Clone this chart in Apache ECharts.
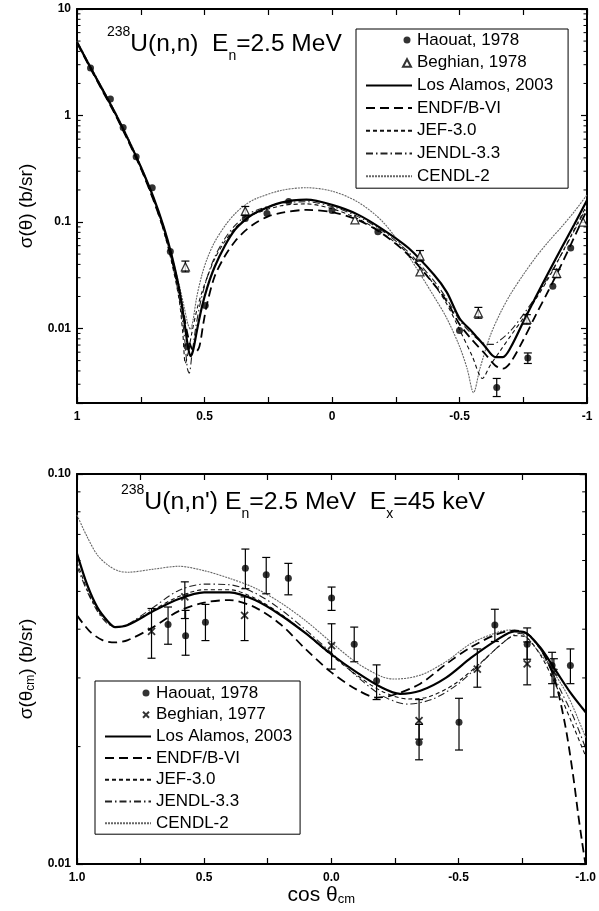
<!DOCTYPE html>
<html><head><meta charset="utf-8">
<script src="https://cdn.jsdelivr.net/npm/echarts@6/dist/echarts.min.js"></script>
<style>html,body{margin:0;padding:0;background:#fff}#c{width:599px;height:911px}</style>
</head><body><div id="c"></div>
<script>
const FONT = "'Liberation Sans', Arial, Helvetica, sans-serif";

// ---------- top panel: 238U(n,n) En=2.5 MeV ----------  [cos(theta), sigma]
const topLosAlamos = [[1,4.9],[0.95,2.9],[0.9,1.75],[0.85,1.05],[0.8,0.6],[0.75,0.33],[0.7,0.17],[0.66,0.09],[0.63,0.05],[0.6,0.024],[0.58,0.012],[0.565,0.0068],[0.555,0.0055],[0.545,0.0062],[0.53,0.0095],[0.51,0.016],[0.49,0.024],[0.46,0.038],[0.42,0.06],[0.38,0.085],[0.34,0.105],[0.3,0.122],[0.2,0.152],[0.1,0.162],[0,0.145],[-0.1,0.118],[-0.2,0.085],[-0.3,0.057],[-0.4,0.032],[-0.45,0.022],[-0.5,0.0125],[-0.55,0.0093],[-0.6,0.0068],[-0.64,0.0054],[-0.67,0.0054],[-0.7,0.0066],[-0.75,0.0115],[-0.8,0.02],[-0.85,0.034],[-0.9,0.057],[-0.95,0.095],[-1,0.16]];
const topENDF = [[1,4.8],[0.95,2.85],[0.9,1.7],[0.85,1.02],[0.8,0.58],[0.75,0.32],[0.7,0.16],[0.66,0.085],[0.63,0.046],[0.6,0.023],[0.58,0.013],[0.565,0.0085],[0.55,0.0065],[0.535,0.006],[0.52,0.0068],[0.505,0.011],[0.49,0.017],[0.46,0.031],[0.42,0.048],[0.38,0.066],[0.34,0.083],[0.3,0.098],[0.25,0.113],[0.2,0.122],[0.1,0.13],[0,0.124],[-0.1,0.105],[-0.2,0.077],[-0.3,0.049],[-0.4,0.026],[-0.45,0.018],[-0.5,0.011],[-0.55,0.0078],[-0.6,0.0058],[-0.64,0.0045],[-0.67,0.0042],[-0.7,0.0048],[-0.75,0.0078],[-0.8,0.0135],[-0.85,0.023],[-0.9,0.04],[-0.95,0.072],[-1,0.13]];
const topJEF = [[1,4.85],[0.95,2.9],[0.9,1.72],[0.85,1.03],[0.8,0.59],[0.75,0.32],[0.7,0.16],[0.66,0.082],[0.63,0.043],[0.6,0.019],[0.585,0.009],[0.575,0.0047],[0.565,0.0058],[0.55,0.009],[0.53,0.015],[0.51,0.022],[0.49,0.03],[0.46,0.045],[0.42,0.066],[0.38,0.088],[0.34,0.106],[0.3,0.12],[0.2,0.142],[0.1,0.148],[0,0.133],[-0.1,0.108],[-0.2,0.078],[-0.3,0.05],[-0.4,0.026],[-0.45,0.017],[-0.5,0.0098],[-0.55,0.0055],[-0.59,0.0034],[-0.62,0.0045],[-0.66,0.0062],[-0.7,0.0085],[-0.75,0.0125],[-0.8,0.019],[-0.85,0.03],[-0.9,0.05],[-0.95,0.085],[-1,0.145]];
const topJENDL = [[1,4.9],[0.95,2.95],[0.9,1.78],[0.85,1.06],[0.8,0.6],[0.75,0.33],[0.7,0.165],[0.66,0.086],[0.63,0.045],[0.6,0.02],[0.58,0.009],[0.567,0.0042],[0.56,0.0038],[0.55,0.0055],[0.535,0.01],[0.515,0.018],[0.49,0.03],[0.46,0.047],[0.42,0.07],[0.38,0.093],[0.34,0.113],[0.3,0.128],[0.2,0.15],[0.1,0.155],[0,0.14],[-0.1,0.113],[-0.2,0.082],[-0.3,0.052],[-0.4,0.028],[-0.45,0.019],[-0.5,0.012],[-0.55,0.0088],[-0.6,0.0072],[-0.63,0.0071],[-0.66,0.0078],[-0.7,0.0095],[-0.75,0.0135],[-0.8,0.02],[-0.85,0.031],[-0.9,0.05],[-0.95,0.083],[-1,0.14]];
const topCENDL = [[1,5.0],[0.95,3.0],[0.9,1.8],[0.85,1.08],[0.8,0.62],[0.75,0.34],[0.7,0.17],[0.66,0.09],[0.63,0.05],[0.6,0.026],[0.58,0.016],[0.565,0.011],[0.555,0.0098],[0.545,0.012],[0.53,0.02],[0.51,0.032],[0.49,0.045],[0.46,0.065],[0.42,0.092],[0.38,0.12],[0.34,0.145],[0.3,0.165],[0.2,0.198],[0.1,0.21],[0,0.195],[-0.1,0.155],[-0.2,0.1],[-0.3,0.048],[-0.4,0.02],[-0.45,0.0125],[-0.5,0.0068],[-0.53,0.0042],[-0.555,0.0025],[-0.58,0.0042],[-0.62,0.0085],[-0.66,0.014],[-0.7,0.021],[-0.75,0.032],[-0.8,0.047],[-0.85,0.066],[-0.9,0.09],[-0.95,0.125],[-1,0.18]];
// [cos, sigma, low, high]  (null = error bar hidden by the marker)
const topHaouat = [[0.947,2.8,null,null],[0.869,1.43,null,null],[0.819,0.77,null,null],[0.768,0.41,null,null],[0.705,0.21,null,null],[0.634,0.053,null,null],[0.568,0.0068,null,null],[0.497,0.0165,null,null],[0.34,0.108,null,null],[0.255,0.12,null,null],[0.17,0.156,null,null],[0.0,0.128,null,null],[-0.18,0.081,null,null],[-0.5,0.0096,null,null],[-0.646,0.0028,0.0023,0.0034],[-0.768,0.0053,0.0047,0.0059],[-0.866,0.025,null,null],[-0.936,0.057,null,null]];
const topBeghian = [[0.575,0.038,0.034,0.043],[0.34,0.127,0.115,0.14],[-0.09,0.105,null,null],[-0.345,0.048,0.043,0.054],[-0.345,0.034,null,null],[-0.574,0.014,0.0125,0.0158],[-0.764,0.0122,0.011,0.0135],[-0.881,0.033,0.03,0.036],[-0.985,0.1,null,null]];

// ---------- bottom panel: 238U(n,n') Ex=45 keV ----------
const botLosAlamos = [[1,0.0625],[0.96,0.052],[0.92,0.0455],[0.88,0.042],[0.85,0.0405],[0.8,0.041],[0.7,0.0445],[0.6,0.0478],[0.5,0.0497],[0.4,0.0497],[0.3,0.0475],[0.2,0.0435],[0.1,0.039],[0,0.0345],[-0.1,0.031],[-0.2,0.0283],[-0.27,0.0273],[-0.35,0.0278],[-0.45,0.03],[-0.55,0.0338],[-0.65,0.0375],[-0.72,0.0395],[-0.76,0.0393],[-0.82,0.036],[-0.88,0.0315],[-0.94,0.0275],[-1,0.0245]];
const botENDF = [[1,0.0434],[0.95,0.0395],[0.9,0.0375],[0.85,0.037],[0.8,0.0375],[0.7,0.0405],[0.6,0.0445],[0.5,0.0468],[0.4,0.0475],[0.3,0.0455],[0.2,0.0412],[0.1,0.0355],[0,0.031],[-0.1,0.028],[-0.18,0.0267],[-0.25,0.0272],[-0.35,0.029],[-0.45,0.0325],[-0.55,0.036],[-0.65,0.0388],[-0.72,0.0397],[-0.78,0.0385],[-0.84,0.034],[-0.88,0.0295],[-0.92,0.0226],[-0.95,0.017],[-0.97,0.0135],[-0.985,0.0115],[-1,0.0099]];
const botJEF = [[1,0.0595],[0.96,0.0505],[0.92,0.0448],[0.88,0.0415],[0.84,0.0405],[0.8,0.041],[0.7,0.0448],[0.6,0.0485],[0.5,0.0505],[0.4,0.0505],[0.3,0.048],[0.2,0.0438],[0.1,0.039],[0,0.0343],[-0.1,0.0305],[-0.2,0.0277],[-0.3,0.0265],[-0.38,0.0268],[-0.48,0.0288],[-0.58,0.0325],[-0.66,0.0362],[-0.72,0.0385],[-0.76,0.0383],[-0.82,0.0345],[-0.88,0.029],[-0.94,0.0235],[-1,0.0189]];
const botJENDL = [[1,0.058],[0.96,0.05],[0.92,0.0445],[0.88,0.0413],[0.84,0.0405],[0.8,0.0412],[0.7,0.0455],[0.6,0.0503],[0.5,0.0522],[0.4,0.052],[0.3,0.0495],[0.2,0.045],[0.1,0.0398],[0,0.0348],[-0.1,0.0303],[-0.2,0.027],[-0.3,0.0257],[-0.4,0.0265],[-0.5,0.029],[-0.6,0.0333],[-0.68,0.0372],[-0.74,0.039],[-0.78,0.0383],[-0.84,0.034],[-0.9,0.028],[-0.95,0.024],[-1,0.0198]];
const botCENDL = [[1,0.0785],[0.96,0.069],[0.92,0.062],[0.88,0.0585],[0.84,0.0565],[0.8,0.056],[0.7,0.057],[0.6,0.058],[0.5,0.0565],[0.4,0.054],[0.3,0.051],[0.2,0.0468],[0.1,0.042],[0,0.037],[-0.1,0.0328],[-0.2,0.0302],[-0.25,0.0298],[-0.35,0.0305],[-0.45,0.033],[-0.55,0.0368],[-0.65,0.0392],[-0.7,0.0398],[-0.75,0.039],[-0.8,0.036],[-0.86,0.032],[-0.93,0.027],[-1,0.0211]];
const botHaouat = [[0.642,0.0411,0.0366,0.0456],[0.573,0.0385,0.0343,0.0447],[0.495,0.0417,0.0374,0.0463],[0.338,0.0573,0.0508,0.0642],[0.256,0.0552,0.0493,0.0611],[0.169,0.054,0.049,0.059],[-0.001,0.0481,0.0447,0.0513],[-0.09,0.0366,0.033,0.0405],[-0.178,0.0295,0.0264,0.0324],[-0.345,0.0205,0.0185,0.0228],[-0.502,0.0231,0.0196,0.0266],[-0.643,0.041,0.0372,0.045],[-0.77,0.0366,0.0335,0.0403],[-0.868,0.0323,0.029,0.0349],[-0.94,0.0323,0.029,0.0356]];
const botBeghian = [[0.707,0.0395,0.0337,0.0452],[0.576,0.0484,0.0426,0.0529],[0.341,0.0434,0.0374,0.0484],[-0.001,0.0363,0.0316,0.0413],[-0.345,0.0233,0.0209,0.0264],[-0.574,0.0316,0.0284,0.0356],[-0.77,0.0326,0.0288,0.0371],[-0.875,0.031,0.0268,0.0336]];

// ---------- ticks ----------
const xTickVals = [1, 0.5, 0, -0.5, -1];
const topXTickText = ['1', '0.5', '0', '-0.5', '-1'];
const botXTickText = ['1.0', '0.5', '0.0', '-0.5', '-1.0'];
const topYTickVals = [10, 1, 0.1, 0.01];
const topYTickText = ['10', '1', '0.1', '0.01'];
const botYTickVals = [0.1, 0.01];
const botYTickText = ['0.10', '0.01'];
const topMinorTicks = [0.003,0.004,0.005,0.006,0.007,0.008,0.009,0.02,0.03,0.04,0.05,0.06,0.07,0.08,0.09,0.2,0.3,0.4,0.5,0.6,0.7,0.8,0.9,2,3,4,5,6,7,8,9];
const botMinorTicks = [0.02,0.03,0.04,0.05,0.06,0.07,0.08,0.09];

// legend marker icons (frame 46x9, marker placed next to the text)
const ICON_CIRCLE = 'path://M0 0M46 9M41 1A3.5 3.5 0 1 1 41 8A3.5 3.5 0 1 1 41 1Z';
const ICON_TRI = 'path://M0 0M46 9M37 8.5L41 1L45 8.5Z';
const ICON_X = 'path://M0 0M46 9M38 1.5L44 7.5M44 1.5L38 7.5';
const topLegend = [{name:'Haouat, 1978', icon:ICON_CIRCLE},{name:'Beghian, 1978', icon:ICON_TRI},'Los Alamos, 2003','ENDF/B-VI','JEF-3.0','JENDL-3.3','CENDL-2'];
const botLegend = [{name:'Haouat, 1978', icon:ICON_CIRCLE},{name:'Beghian, 1977', icon:ICON_X},'Los Alamos, 2003','ENDF/B-VI','JEF-3.0','JENDL-3.3','CENDL-2'];

function fmtFrom(vals, texts, log) {
  return function (v) {
    for (let i = 0; i < vals.length; i++) {
      const d = log ? Math.abs(Math.log10(v) - Math.log10(vals[i])) : Math.abs(v - vals[i]);
      if (d < 1e-6) return texts[i];
    }
    return '';
  };
}
const labelStyle = {color:'#000', fontFamily:FONT, fontWeight:'bold', fontSize:12};
function xAx(grid, pos, texts, show, extra) {
  return Object.assign({type:'value', gridIndex:grid, position:pos, min:-1, max:1, interval:0.25, inverse:true,
    axisLine:{show:true, onZero:false, lineStyle:{color:'#000', width:2}},
    axisTick:{show:true, inside:true, length:6, lineStyle:{color:'#000', width:1.2}},
    axisLabel:Object.assign({show:show, interval:0, margin:8, formatter:fmtFrom(xTickVals, texts, false)}, labelStyle),
    splitLine:{show:false}}, extra || {});
}
function yAx(grid, pos, min, max, vals, texts, show, extra) {
  return Object.assign({type:'log', logBase:10, gridIndex:grid, position:pos, min:min, max:max,
    axisLine:{show:true, onZero:false, lineStyle:{color:'#000', width:2}},
    axisTick:{show:true, inside:true, length:6, lineStyle:{color:'#000', width:1.2}},
    axisLabel:Object.assign({show:show, margin:6, formatter:fmtFrom(vals, texts, true)}, labelStyle),
    splitLine:{show:false}, minorTick:{show:false}}, extra || {});
}

const styles = {
  'Los Alamos, 2003': {color:'#000', width:2.2, type:'solid'},
  'ENDF/B-VI': {color:'#000', width:1.8, type:[9,5]},
  'JEF-3.0': {color:'#111', width:1.1, type:[4,3]},
  'JENDL-3.3': {color:'#222', width:1.1, type:[7,3,1.5,3]},
  'CENDL-2': {color:'#666', width:1.1, type:[2,1]}
};
function line(name, data, xi, yi) {
  return {type:'line', name:name, data:data, xAxisIndex:xi, yAxisIndex:yi, symbol:'none', smooth:0.3,
    itemStyle:{color:'rgba(0,0,0,0)', borderColor:'rgba(0,0,0,0)'},
    lineStyle:styles[name], z:2, silent:true};
}
function errBars(src, xi, yi) {
  return {type:'custom', name:'err', xAxisIndex:xi, yAxisIndex:yi, z:3, silent:true,
    data: src.filter(d => d[2] !== null).map(d => [d[0], d[2], d[3]]), encode:{x:0, y:[1,2]},
    renderItem: function (params, api) {
      const p1 = api.coord([api.value(0), api.value(1)]);
      const p2 = api.coord([api.value(0), api.value(2)]);
      const w = 4, st = {stroke:'#000', lineWidth:1.2};
      return {type:'group', children:[
        {type:'line', shape:{x1:p1[0], y1:p1[1], x2:p2[0], y2:p2[1]}, style:st},
        {type:'line', shape:{x1:p1[0]-w, y1:p1[1], x2:p1[0]+w, y2:p1[1]}, style:st},
        {type:'line', shape:{x1:p2[0]-w, y1:p2[1], x2:p2[0]+w, y2:p2[1]}, style:st}]};
    }};
}
function minorTicks(vals, xi, yi) {
  return {type:'custom', name:'minor', xAxisIndex:xi, yAxisIndex:yi, z:5, silent:true,
    data: vals.map(v => [v]), encode:{y:0},
    renderItem: function (params, api) {
      const v = api.value(0);
      const L = api.coord([1, v]), R = api.coord([-1, v]);
      const st = {stroke:'#000', lineWidth:1};
      return {type:'group', children:[
        {type:'line', shape:{x1:L[0], y1:L[1], x2:L[0]+3.5, y2:L[1]}, style:st},
        {type:'line', shape:{x1:R[0], y1:R[1], x2:R[0]-3.5, y2:R[1]}, style:st}]};
    }};
}
const circleStyle = {symbol:'circle', symbolSize:7, itemStyle:{color:'#000'}};
const triStyle = {symbol:'triangle', symbolSize:8, itemStyle:{color:'#fff', borderColor:'#000', borderWidth:1.3}};
const crossStyle = {symbol:'path://M0 0L10 10M10 0L0 10', symbolSize:7, itemStyle:{color:'#000', borderColor:'#000', borderWidth:1.8}};
function scatter(name, src, xi, yi, st) {
  return Object.assign({type:'scatter', name:name, xAxisIndex:xi, yAxisIndex:yi, z:4, silent:true,
    data: src.map(d => [d[0], d[1]])}, st);
}

const legendText = {fontSize:17, fontFamily:FONT, color:'#000', lineHeight:18};
const axisNameStyle = {fontSize:19, fontFamily:FONT, color:'#000', rich:{sub:{fontSize:12, fontFamily:FONT, color:'#000', verticalAlign:'bottom'}}};

const option = {
  backgroundColor:'#fff',
  animation:false,
  grid:[{left:77, top:9, width:510, height:394}, {left:77, top:474, width:510, height:390}],
  xAxis:[
    xAx(0, 'bottom', topXTickText, true),
    xAx(0, 'top', topXTickText, false),
    xAx(1, 'bottom', botXTickText, true, {name:'cos θ{sub|cm}', nameLocation:'middle', nameGap:14,
      nameTextStyle:{fontSize:21, fontFamily:FONT, color:'#000', padding:[0,20,0,0], rich:{sub:{fontSize:13, fontFamily:FONT, color:'#000', verticalAlign:'bottom'}}}}),
    xAx(1, 'top', botXTickText, false)
  ],
  yAxis:[
    yAx(0, 'left', 0.002, 10, topYTickVals, topYTickText, true, {name:'σ(θ) (b/sr)', nameLocation:'middle', nameGap:40, nameTextStyle:axisNameStyle}),
    yAx(0, 'right', 0.002, 10, topYTickVals, topYTickText, false),
    yAx(1, 'left', 0.01, 0.1, botYTickVals, botYTickText, true, {name:'σ(θ{sub|cm}) (b/sr)', nameLocation:'middle', nameGap:40, nameTextStyle:axisNameStyle}),
    yAx(1, 'right', 0.01, 0.1, botYTickVals, botYTickText, false)
  ],
  legend:[
    {data:topLegend, orient:'vertical', left:356, top:29, itemWidth:46, itemHeight:9, itemGap:4.7,
     padding:[2,15,3,9], borderColor:'#000', borderWidth:1, backgroundColor:'#fff', selectedMode:false, textStyle:legendText},
    {data:botLegend, orient:'vertical', left:95, top:681, itemWidth:46, itemHeight:9, itemGap:3.7,
     padding:[3,8,2,9], borderColor:'#000', borderWidth:1, backgroundColor:'#fff', selectedMode:false, textStyle:legendText}
  ],
  graphic:[
    {type:'text', x:107, y:25, z:10, style:{text:'{sup|238}{big|U(n,n)  E}{sub|n}{big|=2.5 MeV}', verticalAlign:'top', fill:'#000',
      rich:{big:{fontSize:24.5, fontFamily:FONT, lineHeight:38, verticalAlign:'middle'}, sup:{fontSize:14, fontFamily:FONT, lineHeight:14, verticalAlign:'top'}, sub:{fontSize:14, fontFamily:FONT, lineHeight:14, verticalAlign:'bottom'}}}},
    {type:'text', x:121, y:483, z:10, style:{text:"{sup|238}{big|U(n,n') E}{sub|n}{big|=2.5 MeV  E}{sub|x}{big|=45 keV}", verticalAlign:'top', fill:'#000',
      rich:{big:{fontSize:24.8, fontFamily:FONT, lineHeight:38, verticalAlign:'middle'}, sup:{fontSize:14, fontFamily:FONT, lineHeight:14, verticalAlign:'top'}, sub:{fontSize:14, fontFamily:FONT, lineHeight:14, verticalAlign:'bottom'}}}}
  ],
  series:[
    minorTicks(topMinorTicks, 0, 0),
    minorTicks(botMinorTicks, 2, 2),
    line('CENDL-2', topCENDL, 0, 0),
    line('JENDL-3.3', topJENDL, 0, 0),
    line('JEF-3.0', topJEF, 0, 0),
    line('ENDF/B-VI', topENDF, 0, 0),
    line('Los Alamos, 2003', topLosAlamos, 0, 0),
    errBars(topHaouat, 0, 0),
    errBars(topBeghian, 0, 0),
    scatter('Haouat, 1978', topHaouat, 0, 0, circleStyle),
    scatter('Beghian, 1978', topBeghian, 0, 0, triStyle),
    line('CENDL-2', botCENDL, 2, 2),
    line('JENDL-3.3', botJENDL, 2, 2),
    line('JEF-3.0', botJEF, 2, 2),
    line('ENDF/B-VI', botENDF, 2, 2),
    line('Los Alamos, 2003', botLosAlamos, 2, 2),
    errBars(botHaouat, 2, 2),
    errBars(botBeghian, 2, 2),
    scatter('Haouat, 1978', botHaouat, 2, 2, circleStyle),
    scatter('Beghian, 1977', botBeghian, 2, 2, crossStyle)
  ]
};
const chart = echarts.init(document.getElementById('c'));
chart.setOption(option);
</script></body></html>
